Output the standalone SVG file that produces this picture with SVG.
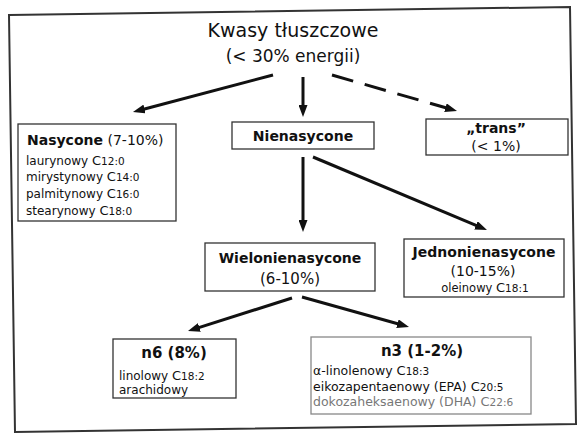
<svg xmlns="http://www.w3.org/2000/svg" width="577" height="435" viewBox="0 0 577 435">
<style>
text{font-family:"DejaVu Sans","Liberation Sans",sans-serif;fill:#111}
.t{font-size:19px}
.b{font-weight:bold;font-size:14px}
.s{font-size:12px}
.d{font-size:10.5px}
.c{font-size:13px}
.m{text-anchor:middle}
.box{fill:#fff;stroke:#333;stroke-width:1.3}
.conn{stroke:#111;stroke-width:3;fill:none}
</style>
<defs>
<marker id="ah" markerUnits="userSpaceOnUse" viewBox="0 0 12 9" markerWidth="12" markerHeight="9" refX="4" refY="4.5" orient="auto">
<path d="M0,0 L12,4.5 L0,9 z" fill="#111"/>
</marker>
</defs>
<rect width="577" height="435" fill="#fff"/>
<polygon points="9,15 570,7 576,424 15,432" fill="none" stroke="#333" stroke-width="2"/>

<g id="title">
<text class="t m" x="293" y="37">Kwasy tłuszczowe</text>
<text class="m" x="293" y="62" font-size="17">(&lt; 30% energii)</text>
</g>

<g id="connectors">
<line class="conn" x1="273" y1="75" x2="140.7" y2="110" marker-end="url(#ah)"/>
<line class="conn" x1="303" y1="77" x2="303" y2="109" marker-end="url(#ah)"/>
<line class="conn" x1="332" y1="75" x2="449.3" y2="108.8" stroke-dasharray="22 12" marker-end="url(#ah)"/>
<line class="conn" x1="303" y1="157" x2="303" y2="224" marker-end="url(#ah)"/>
<line class="conn" x1="313" y1="157" x2="479.6" y2="226.9" marker-end="url(#ah)"/>
<line class="conn" x1="292" y1="298" x2="195.6" y2="328.6" marker-end="url(#ah)"/>
<line class="conn" x1="302" y1="297" x2="401.3" y2="324.8" marker-end="url(#ah)"/>
</g>

<g id="nasycone">
<rect class="box" x="18" y="124" width="158" height="97"/>
<text x="27" y="145" font-size="14"><tspan font-weight="bold">Nasycone</tspan> (7-10%)</text>
<text class="s" x="26" y="165">laurynowy <tspan class="c">C</tspan><tspan class="d">12:0</tspan></text>
<text class="s" x="26" y="181">mirystynowy <tspan class="c">C</tspan><tspan class="d">14:0</tspan></text>
<text class="s" x="26" y="198">palmitynowy <tspan class="c">C</tspan><tspan class="d">16:0</tspan></text>
<text class="s" x="26" y="215">stearynowy <tspan class="c">C</tspan><tspan class="d">18:0</tspan></text>
</g>

<g id="nienasycone">
<rect class="box" x="232" y="122" width="142" height="27"/>
<text class="b m" x="303" y="141">Nienasycone</text>
</g>

<g id="trans">
<rect class="box" x="426" y="119" width="142" height="36"/>
<text class="b m" x="496" y="133">„trans”</text>
<text class="m" x="496" y="151" font-size="14">(&lt; 1%)</text>
</g>

<g id="wielonienasycone">
<rect class="box" x="205" y="243" width="170" height="48"/>
<text class="b m" x="290" y="263">Wielonienasycone</text>
<text class="m" x="290" y="284" font-size="15">(6-10%)</text>
</g>

<g id="jednonienasycone">
<rect class="box" x="404" y="239" width="160" height="58"/>
<text class="b m" x="484" y="257">Jednonienasycone</text>
<text class="m" x="483" y="276" font-size="14">(10-15%)</text>
<text class="m" x="485" y="292" font-size="11.5">oleinowy <tspan class="c">C</tspan><tspan class="d">18:1</tspan></text>
</g>

<g id="n6">
<rect class="box" x="113" y="339" width="123" height="59"/>
<text class="m" x="174" y="358" font-size="15" font-weight="bold">n6 (8%)</text>
<text class="s" x="119" y="380">linolowy <tspan class="c">C</tspan><tspan class="d">18:2</tspan></text>
<text class="s" x="119" y="394">arachidowy</text>
</g>

<g id="n3">
<rect class="box" x="311" y="337" width="220" height="77" style="stroke:#888"/>
<text class="m" x="422" y="356" font-size="15" font-weight="bold">n3 (1-2%)</text>
<text x="313" y="375" font-size="12.5">α-linolenowy <tspan class="c">C</tspan><tspan class="d">18:3</tspan></text>
<text x="313" y="391" font-size="12.5">eikozapentaenowy (EPA) <tspan class="c">C</tspan><tspan class="d">20:5</tspan></text>
<text x="313" y="406" font-size="12.5" style="fill:#777">dokozaheksaenowy (DHA) <tspan class="c">C</tspan><tspan class="d">22:6</tspan></text>
</g>
</svg>
